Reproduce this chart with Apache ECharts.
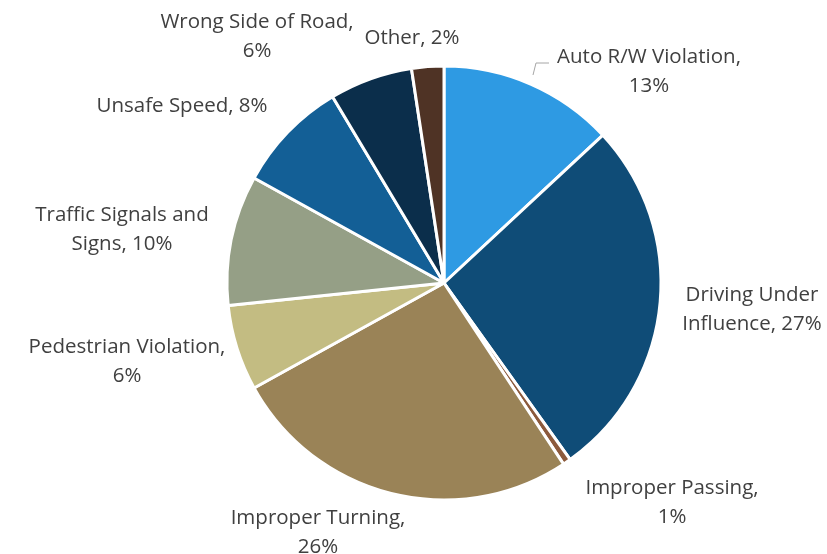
<!DOCTYPE html>
<html>
<head>
<meta charset="utf-8">
<script src="https://cdn.jsdelivr.net/npm/echarts@6/dist/echarts.min.js"></script>
<style>
  html, body { margin: 0; padding: 0; background: #fff; }
  #chart { width: 827px; height: 554px; }
</style>
</head>
<body>
<div id="chart"></div>
<script>
  // causes, clockwise from the top
  var categories = ['Auto R/W Violation', 'Driving Under Influence', 'Improper Passing',
    'Improper Turning', 'Pedestrian Violation', 'Traffic Signals and Signs',
    'Unsafe Speed', 'Wrong Side of Road', 'Other'];
  // share in percent
  var shares = [13.1, 27.1, 0.6, 26.3, 6.4, 9.7, 8.4, 6.2, 2.4];
  // label text, line breaks as in the original
  var labelTexts = ['Auto R/W Violation,\n{p}', 'Driving Under\nInfluence, {p}', 'Improper Passing,\n{p}',
    'Improper Turning,\n{p}', 'Pedestrian Violation,\n{p}', 'Traffic Signals and\nSigns, {p}',
    'Unsafe Speed, {p}', 'Wrong Side of Road,\n{p}', 'Other, {p}'];

  var colors = ['#2e9ae3', '#0f4c77', '#8c5a3c', '#9a8357', '#c3bc82',
    '#959f86', '#135f96', '#0b2e4b', '#4f3325'];
  // where each label sits (centre of text block)
  var labelSpots = [[649, 72], [752, 310], [672, 503], [318, 533], [127, 362],
    [122, 230], [182, 106], [257, 37], [412, 38]];

  var chart = echarts.init(document.getElementById('chart'));

  var pieData = categories.map(function (name, i) {
    var item = { name: name, value: shares[i], itemStyle: { color: colors[i] } };
    if (i === 0) {
      item.labelLine = { show: true };
    }
    return item;
  });

  chart.setOption({
    animation: false,
    series: [{
      type: 'pie',
      center: [444, 283],
      radius: 217,
      startAngle: 90,
      clockwise: true,
      data: pieData,
      itemStyle: { borderColor: '#fff', borderWidth: 3 },
      label: {
        show: true,
        position: 'outside',
        color: '#404040',
        fontFamily: 'Open Sans',
        fontSize: 20.5,
        lineHeight: 29,
        align: 'center',
        overflow: 'none',
        width: 260,
        formatter: function (p) {
          return labelTexts[p.dataIndex].replace('{p}', Math.round(p.value) + '%');
        }
      },
      labelLine: {
        show: false,
        lineStyle: { color: '#a6a6a6', width: 1 }
      },
      labelLayout: function (p) {
        var s = labelSpots[p.dataIndex];
        var out = { x: s[0], y: s[1], align: 'center', verticalAlign: 'middle' };
        if (p.dataIndex === 0) {
          out.labelLinePoints = [[533, 75], [536, 63], [549, 63]];
        }
        return out;
      }
    }]
  });
</script>
</body>
</html>
